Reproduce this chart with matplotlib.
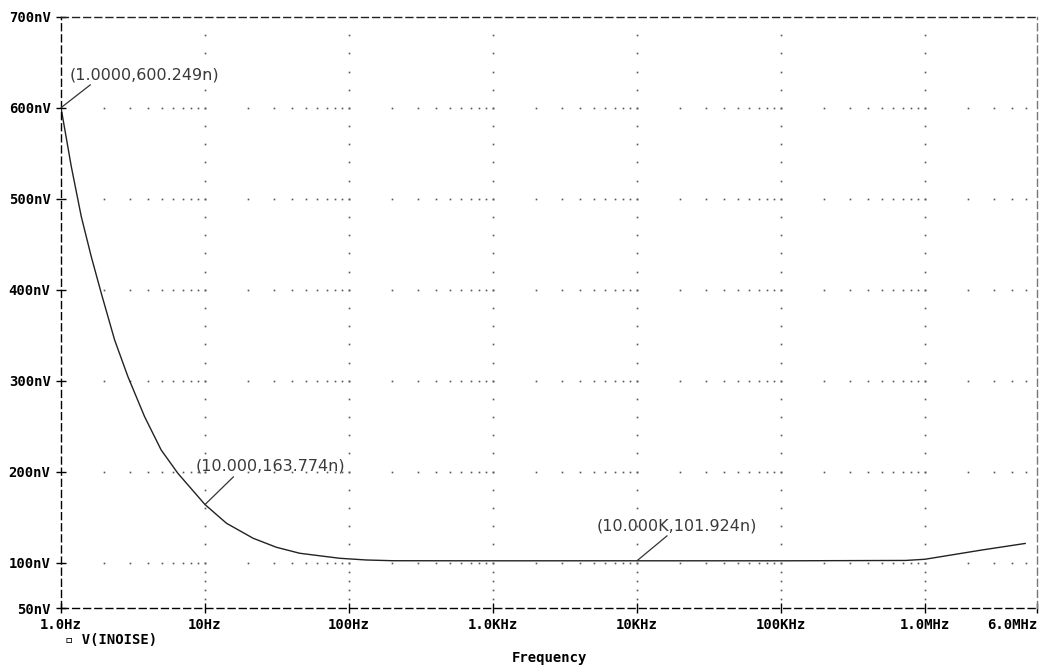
import numpy as np
import matplotlib.pyplot as plt

# values
freq = [1, 1.179, 1.383, 1.622, 1.904, 2.357, 2.915, 3.805, 4.962, 6.477, 10,
        14.1, 21.6, 31.3, 45.5, 86, 132, 202, 1000, 10000, 100000, 733000,
        1000000, 2490000, 4970000]
vnoise = [600.249, 535.5, 480.5, 436.5, 396.2, 344.8, 304.5, 260.5, 223.8, 198.2, 163.774,
          143.2, 126.7, 116.8, 110.2, 104.7, 102.8, 102.0, 101.9, 101.924, 101.9, 102.3,
          103.6, 113.8, 121]

xticks = [1, 10, 100, 1e3, 1e4, 1e5, 1e6, 6e6]
xlabels = ['1.0Hz', '10Hz', '100Hz', '1.0KHz', '10KHz', '100KHz', '1.0MHz', '6.0MHz']
yticks = [50, 100, 200, 300, 400, 500, 600, 700]
ylabels = ['50nV', '100nV', '200nV', '300nV', '400nV', '500nV', '600nV', '700nV']

# cursor labels: point, text, text offset (pt), leader attach point on text
markers = [(1, 600.249, '(1.0000,600.249n)', (6.5, 18.5), 0.16),
           (10, 163.774, '(10.000,163.774n)', (-6.5, 22), 0.27),
           (1e4, 101.924, '(10.000K,101.924n)', (-29, 20), 0.46)]

fig = plt.figure(figsize=(10.39, 6.67), dpi=100)
ax = fig.add_axes([61/1039, 1 - 608/667, (1037-61)/1039, (608-17)/667])
ax.set_xscale('log')
ax.set_xlim(1, 6e6)
ax.set_ylim(50, 700)

# dotted grid, PSpice style: dots at minor log positions on horizontal lines,
# dots every 20nV (10nV below 100nV) on vertical lines
gx = []
for d in range(0, 7):
    for m in range(2, 10):
        f = m * 10**d
        if f < 6e6:
            gx.append(f)
gx += [10, 100, 1e3, 1e4, 1e5, 1e6]
for yv in [100, 200, 300, 400, 500, 600]:
    ax.plot(gx, [yv]*len(gx), ls='none', marker='s', ms=1.2, mew=0, color='#555')
gy = list(range(60, 100, 10)) + list(range(100, 700, 20))
for xv in [10, 100, 1e3, 1e4, 1e5, 1e6]:
    ax.plot([xv]*len(gy), gy, ls='none', marker='s', ms=1.2, mew=0, color='#555')

ax.plot(freq, vnoise, color='#222', lw=1.0)

for fx, vy, txt, off, rx in markers:
    ax.annotate(txt, xy=(fx, vy), xytext=off, textcoords='offset points',
                fontsize=11.5, color='#3a3a3a', ha='left', va='bottom',
                arrowprops=dict(arrowstyle='-', color='#333', lw=0.9,
                                shrinkA=0, shrinkB=0, relpos=(rx, 0)))

for s in ax.spines.values():
    s.set_linestyle((0, (5, 3)))
    s.set_linewidth(1.0)
ax.spines['right'].set_color('#777')
ax.spines['top'].set_color('#222')

ax.set_xticks(xticks)
ax.set_xticklabels(xlabels)
ax.xaxis.set_minor_locator(plt.NullLocator())
ax.set_yticks(yticks)
ax.set_yticklabels(ylabels)
ax.tick_params(direction='inout', length=7, width=1, pad=4)
for lab in ax.get_xticklabels() + ax.get_yticklabels():
    lab.set_family('DejaVu Sans Mono')
    lab.set_fontweight('bold')
    lab.set_fontsize(10)
ax.get_xticklabels()[-1].set_horizontalalignment('right')

fig.text(549/1039, 1 - 658/667, 'Frequency', ha='center', va='center',
         family='DejaVu Sans Mono', fontweight='bold', fontsize=10)
fig.text(65/1039, 1 - 640/667, '\u25ab V(INOISE)', ha='left', va='center',
         family='DejaVu Sans Mono', fontweight='bold', fontsize=10)

fig.savefig('out.png', dpi=100)
